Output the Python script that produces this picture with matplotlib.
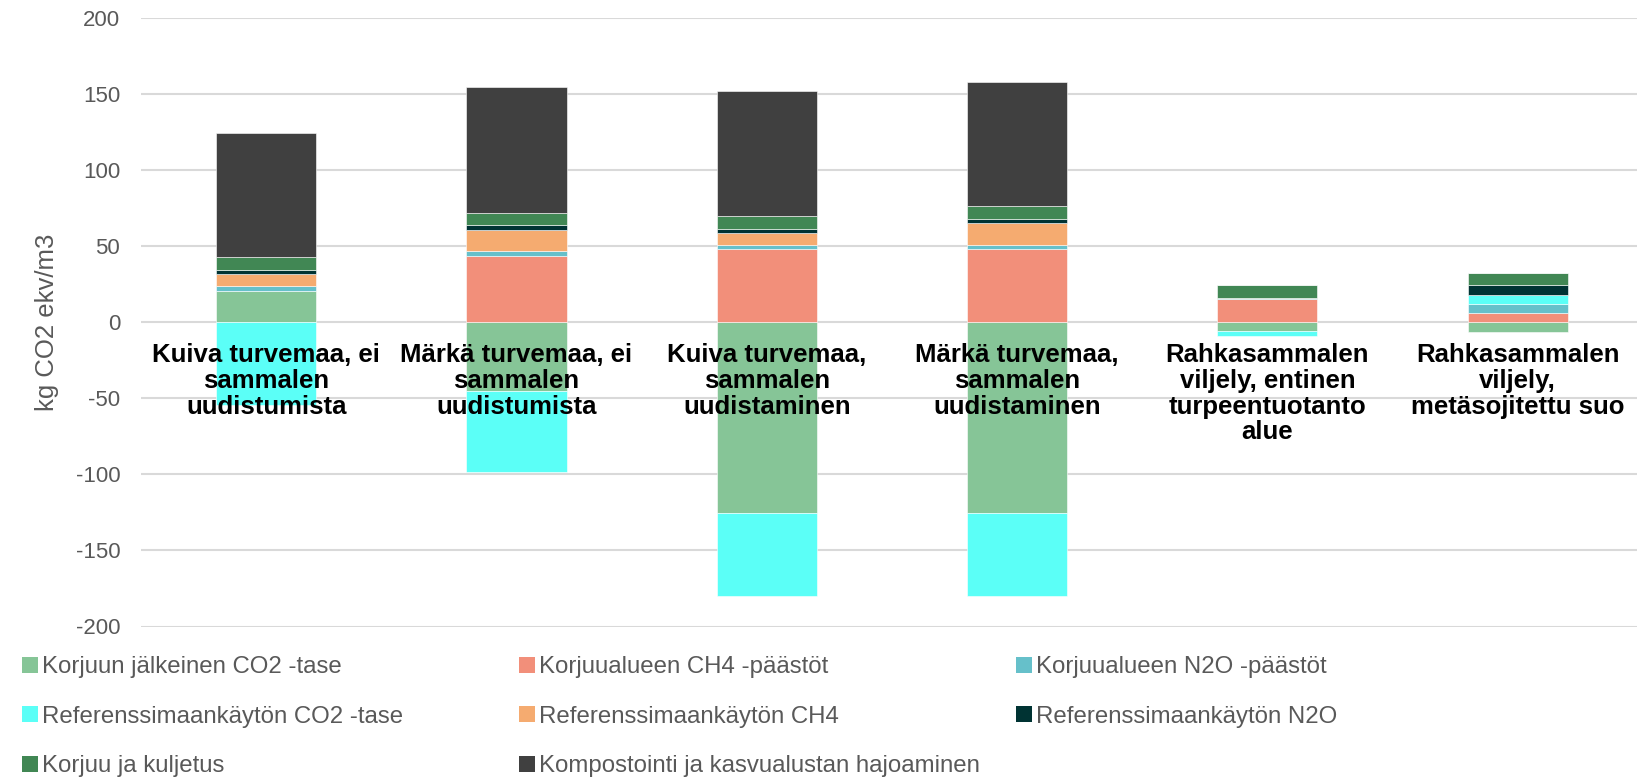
import numpy as np
import matplotlib
matplotlib.use("Agg")
import matplotlib.pyplot as plt
from matplotlib.patches import Patch

plt.rcParams['font.family'] = ['Liberation Sans', 'DejaVu Sans']
plt.rcParams['axes.unicode_minus'] = False

categories = [
    "Kuiva turvemaa, ei\nsammalen\nuudistumista",
    "Märkä turvemaa, ei\nsammalen\nuudistumista",
    "Kuiva turvemaa,\nsammalen\nuudistaminen",
    "Märkä turvemaa,\nsammalen\nuudistaminen",
    "Rahkasammalen\nviljely, entinen\nturpeentuotanto\nalue",
    "Rahkasammalen\nviljely,\nmetäsojitettu suo",
]

# kg CO2 ekv/m3
co2_korjuu = [20.8, -45.0, -125.6, -125.6, -5.5, -6.2]
ch4_korjuu = [0.0, 43.8, 48.0, 48.0, 15.3, 5.9]
n2o_korjuu = [2.8, 2.8, 2.6, 2.6, 0.6, 5.9]
ref_co2 = [-54.2, -53.6, -54.2, -54.2, -3.3, 5.9]
ref_ch4 = [8.0, 14.3, 8.1, 14.5, 0.0, 0.0]
ref_n2o = [2.9, 3.3, 2.4, 2.8, 0.0, 7.0]
korjuu_kuljetus = [8.1, 7.9, 9.0, 8.3, 8.3, 7.9]
kompostointi = [82.0, 82.4, 81.7, 81.9, 0.0, 0.0]

series = [
    ("Korjuun jälkeinen CO2 -tase", co2_korjuu, "#86C597"),
    ("Korjuualueen CH4 -päästöt", ch4_korjuu, "#F28F7A"),
    ("Korjuualueen N2O -päästöt", n2o_korjuu, "#66C0CA"),
    ("Referenssimaankäytön CO2 -tase", ref_co2, "#5BFFF7"),
    ("Referenssimaankäytön CH4", ref_ch4, "#F5AB70"),
    ("Referenssimaankäytön N2O", ref_n2o, "#003333"),
    ("Korjuu ja kuljetus", korjuu_kuljetus, "#418754"),
    ("Kompostointi ja kasvualustan hajoaminen", kompostointi, "#404040"),
]

fig = plt.figure(figsize=(16.37, 7.79), dpi=100)
ax = fig.add_axes([141 / 1637, 1 - 626.5 / 779, 1 - 141 / 1637, (626.5 - 18) / 779])

x = np.arange(len(categories))
pos_bottom = np.zeros(len(categories))
neg_bottom = np.zeros(len(categories))
handles = []
for name, vals, color in series:
    vals = np.array(vals)
    bottom = np.where(vals >= 0, pos_bottom, neg_bottom)
    ax.bar(x, vals, width=0.4, bottom=bottom, color=color,
           edgecolor="white", linewidth=0.4, zorder=3)
    pos_bottom += np.where(vals > 0, vals, 0)
    neg_bottom += np.where(vals < 0, vals, 0)
    handles.append(Patch(facecolor=color, label=name))

ax.set_ylim(-200, 200)
ax.set_xlim(-0.5, -0.5 + (1637 - 141) / 250.3)
ax.set_yticks(range(-200, 201, 50))
ax.yaxis.grid(True, color="#D9D9D9", linewidth=1.5, zorder=0)
ax.set_xticks([])
for s in ax.spines.values():
    s.set_visible(False)
ax.tick_params(axis="y", length=0, labelsize=16, labelcolor="#595959", pad=15)
ax.set_ylabel("kg CO2 ekv/m3", fontsize=18.5, color="#595959", labelpad=12)

for xi, lab in zip(x, categories):
    ax.text(xi, -13.5, lab, ha="center", va="top", fontsize=18.5,
            fontweight="bold", color="black", linespacing=1.1, zorder=5)

# legend laid out row by row, three columns
col_x = [22, 519, 1016]
for c in range(3):
    hs = handles[c::3]
    fig.legend(handles=hs, loc="upper left",
               bbox_to_anchor=(col_x[c] / 1637, 1 - 656 / 779),
               frameon=False, fontsize=17.3, labelcolor="#595959",
               handlelength=0.65, handleheight=0.65, handletextpad=0.2,
               labelspacing=1.15, borderaxespad=0, borderpad=0)

fig.savefig("out.png", dpi=100)
